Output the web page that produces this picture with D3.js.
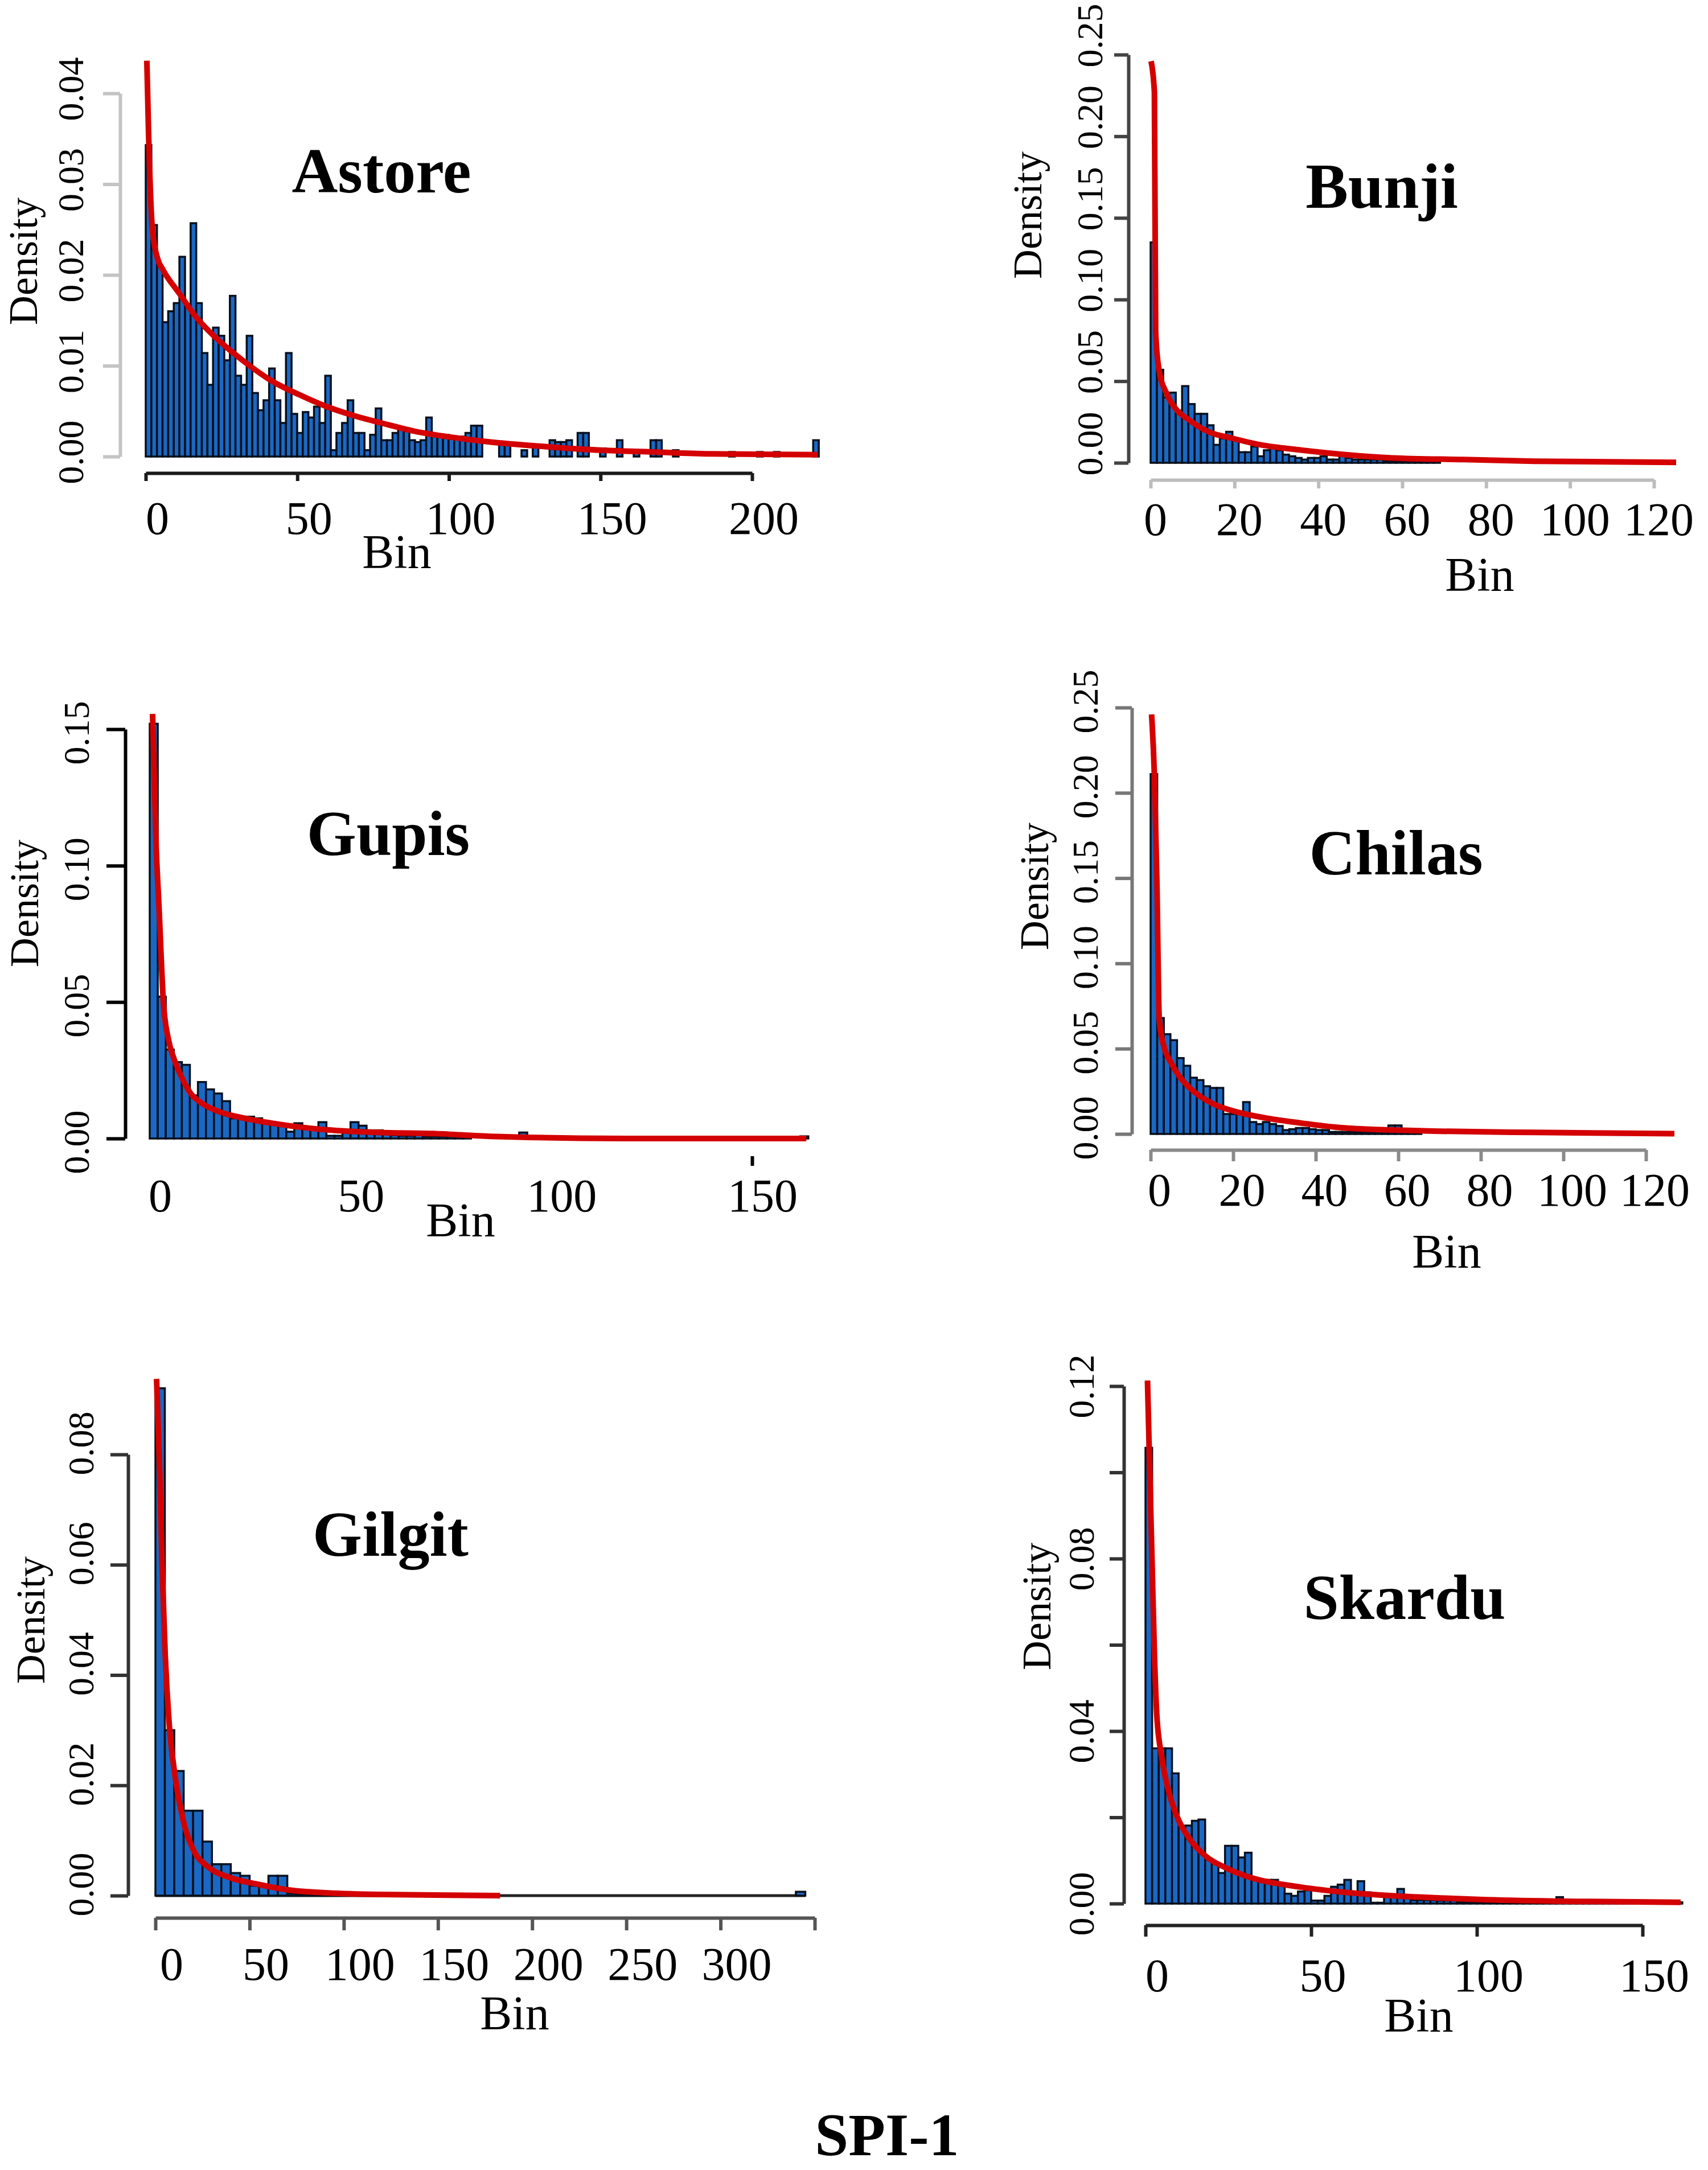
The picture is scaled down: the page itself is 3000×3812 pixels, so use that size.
<!DOCTYPE html>
<html><head><meta charset="utf-8">
<script src="https://cdn.jsdelivr.net/npm/d3@7"></script>
<style>body{margin:0;background:#fff}svg{display:block}</style>
</head><body>
<script>
// ---------------- DATA ----------------
const stations = ["Astore","Bunji","Gupis","Chilas","Gilgit","Skardu"];
const figureTitle = "SPI-1";
const xAxisTitle = "Bin";
const yAxisTitle = "Density";

// histogram bin widths (x units)
const astoreBinWidth = 1.85, bunjiBinWidth = 1.5, gupisBinWidth = 2, chilasBinWidth = 1.6, gilgitBinWidth = 5, skarduBinWidth = 2;

// histogram densities per bin (starting at 0)
const astoreDensity = [
0.0343,0.0255,0.0210,0.0148,0.0160,0.0169,0.0220,0.0167,0.0257,0.0169,
0.0114,0.0079,0.0142,0.0133,0.0106,0.0177,0.0089,0.0079,0.0133,0.0070,
0.0051,0.0062,0.0097,0.0062,0.0037,0.0114,0.0047,0.0026,0.0049,0.0043,
0.0055,0.0037,0.0089,0.0007,0.0026,0.0037,0.0062,0.0026,0.0026,0.0007,
0.0024,0.0053,0.0018,0.0018,0.0026,0.0032,0.0030,0.0018,0.0016,0.0018,
0.0043,0.0024,0.0024,0.0024,0.0022,0.0020,0.0022,0.0026,0.0034,0.0034,
0,0,0,0.0013,0.0013,0,0,0.0007,0,0.0011,
0,0,0.0018,0.0016,0.0016,0.0018,0,0.0026,0.0026,0,
0,0.0009,0,0,0.0018,0,0,0.0005,0,0,
0.0018,0.0018,0,0,0.0007,0,0,0,0,0,
0,0,0,0,0.0005,0,0,0,0,0.0005,
0,0,0.0005,0,0,0,0,0,0,0.0018];
const bunjiDensity = [
0.135,0.057,0.040,0.043,0.032,0.047,0.036,0.030,0.030,0.023,
0.011,0.015,0.019,0.015,0.0065,0.0065,0.010,0.004,0.0077,0.009,
0.0077,0.005,0.004,0.003,0.002,0.003,0.003,0.004,0.002,0.002,
0.0054,0.003,0.002,0.002,0.002,0.002,0.002,0.0012,0.0012,0.0012,
0.0012,0.0012,0.001,0.001,0.001,0.0008];
const gupisDensity = [
0.152,0.052,0.0326,0.028,0.027,0.0158,0.0207,0.018,0.0165,0.0137,
0.0074,0.008,0.008,0.0074,0.006,0.0056,0.0053,0.0025,0.0056,0.004,
0.004,0.006,0.001,0.001,0.0032,0.006,0.0047,0.003,0.003,0.0018,
0.0012,0.001,0.001,0.0012,0.0008,0.0008,0.0008,0.0008,0.0008,0.0008,
0,0,0,0,0,0,0.0022,0,0,0,
0,0,0,0,0,0,0,0,0,0,
0,0,0,0,0,0,0,0,0,0,
0,0,0,0,0,0,0,0,0,0,
0,0.0008];
const chilasDensity = [
0.211,0.068,0.0585,0.055,0.0445,0.040,0.033,0.0316,0.028,0.027,
0.027,0.0117,0.0117,0.0129,0.0187,0.007,0.0058,0.007,0.0058,0.0047,
0.0023,0.0028,0.0035,0.0035,0.0028,0.0023,0.0023,0.0012,0.0012,0.0012,
0.0012,0.0012,0.0012,0.0012,0.0012,0.0012,0.005,0.005,0.001,0.001,
0.001];
const gilgitDensity = [
0.092,0.030,0.0226,0.0154,0.0154,0.0098,0.0057,0.0057,0.0041,0.0036,
0.0018,0.0018,0.0036,0.0036,0.0004,0.0002,0.0002,0.0002,0.0002,0.0002,
0.0002,0.0002,0.0002,0.0002,0,0,0,0,0,0,
0,0,0,0,0,0,0,0,0,0,
0,0,0,0,0,0,0,0,0,0,
0,0,0,0,0,0,0,0,0,0,
0,0,0,0,0,0,0,0,0.0007];
const skarduDensity = [
0.1057,0.036,0.036,0.036,0.0302,0.0176,0.0181,0.0192,0.0195,0.0102,
0.0092,0.0071,0.0134,0.0134,0.0107,0.0118,0.0055,0.0055,0.0055,0.0055,
0.0044,0.0023,0.0018,0.0028,0.0031,0.0007,0.0007,0.0018,0.0039,0.0044,
0.0055,0.0026,0.0052,0.0026,0.0002,0.0002,0.0016,0.0018,0.0034,0.0018,
0.0008,0.0008,0.0008,0.0008,0.0007,0.0007,0.0007,0.0003,0.0003,0.0003,
0.0003,0.0003,0.0003,0.0003,0.0003,0.0003,0.0003,0.0003,0.0003,0.0003,
0.0003,0.0003,0.0015,0.0003,0.0003,0.0003,0.0003,0.0003,0.0003,0.0003,
0.0003,0.0003,0.0003,0.0003,0.0003,0.0003,0.0003,0.0003,0.0003,0.0003,
0.0003];

// fitted density curves
const astoreCurveX = [0.36,0.9,2.2,4.0,5.8,11.2,16.5,23.7,32.7,41.7,50.7,59.7,68.7,77.7,88.5,99.3,113.7,131.7,149.7,167.6,185.6,221.6];
const astoreCurveY = [0.0436,0.036,0.025,0.0217,0.0205,0.0179,0.0154,0.0129,0.0104,0.0083,0.0068,0.0055,0.0045,0.0037,0.0028,0.0022,0.0016,0.0011,0.0007,0.0005,0.0003,0.0002];
const bunjiCurveX = [0.1,0.9,1.2,2.0,3.7,6.0,9.3,13.8,19.5,26.2,35.2,46.5,57.7,74.6,91.5,125.3];
const bunjiCurveY = [0.246,0.227,0.080,0.057,0.043,0.033,0.026,0.019,0.015,0.011,0.008,0.005,0.003,0.002,0.001,0.0003];
const gupisCurveX = [0.7,1.6,2.3,3.4,4.7,6.1,8.1,10.2,12.9,17.0,23.7,30.5,37.3,44.1,57.7,71.2,84.8,118.7,163.5];
const gupisCurveY = [0.1556,0.107,0.085,0.050,0.036,0.029,0.022,0.0165,0.013,0.010,0.0074,0.0056,0.0042,0.0032,0.0022,0.0018,0.0008,0.0,0.0];
const chilasCurveX = [0.23,0.9,1.5,2.1,3.2,4.9,7.2,10.6,15.2,20.9,27.8,35.8,47.2,58.6,70.1,92.9,126.9];
const chilasCurveY = [0.246,0.211,0.150,0.067,0.0515,0.042,0.033,0.0246,0.0176,0.0129,0.0094,0.0066,0.0035,0.0023,0.0016,0.0009,0.0002];
const gilgitCurveX = [0.6,2.3,3.5,5.2,7.3,10.2,14.5,20.3,27.6,39.2,53.8,71.2,91.6,120.6,183];
const gilgitCurveY = [0.0937,0.0765,0.060,0.0436,0.0312,0.0222,0.014,0.0082,0.0053,0.0033,0.0021,0.001,0.0005,0.0002,0];
const skarduCurveX = [0.6,1.3,2.0,2.7,3.4,4.8,7.0,9.8,13.4,17.7,24.8,31.9,46.2,60.4,74.6,88.9,103.1,131.6,161.5];
const skarduCurveY = [0.1213,0.0997,0.0786,0.0576,0.0439,0.0344,0.026,0.0197,0.0149,0.0113,0.0081,0.006,0.0039,0.0026,0.0018,0.0013,0.0009,0.0005,0.0003];

// tick values / labels
const astoreXTicks = [0,50,100,150,200], astoreYTicks = [0,0.01,0.02,0.03,0.04];
const bunjiXTicks = [0,20,40,60,80,100,120], bunjiYTicks = [0,0.05,0.10,0.15,0.20,0.25];
const gupisXTicks = [0,50,100,150], gupisYTicks = [0,0.05,0.10,0.15];
const chilasXTicks = [0,20,40,60,80,100,120], chilasYTicks = [0,0.05,0.10,0.15,0.20,0.25];
const gilgitXTicks = [0,50,100,150,200,250,300,350], gilgitXLabels = [0,50,100,150,200,250,300], gilgitYTicks = [0,0.02,0.04,0.06,0.08];
const skarduXTicks = [0,50,100,150], skarduYTicks = [0,0.02,0.04,0.06,0.08,0.10,0.12], skarduYLabels = [0,0.04,0.08,0.12];

// ---------------- LAYOUT / STYLE ----------------
const W = 3000, H = 3812;
const SERIF = "'Liberation Serif','Times New Roman','DejaVu Serif',serif";
const panels = [
 {name:stations[0], bw:astoreBinWidth, dens:astoreDensity, cx:astoreCurveX, cy:astoreCurveY,
  xTicks:astoreXTicks, xLabels:astoreXTicks, yTicks:astoreYTicks, yLabels:astoreYTicks,
  yAxisX:211, yTop:164, yBot:802, xLeft:256, xRight:1321, xAxisY:831, xLabelBase:938, xLabelDx:20,
  yLabelX:124, yLabelShift:8, densX:40, densY:459, titleX:670, titleY:338, binX:697, binY:998,
  yTickLen:30, xTickLen:14, yColor:"#c4c4c4", xColor:"#1a1a1a", showXLine:true},
 {name:stations[1], bw:bunjiBinWidth, dens:bunjiDensity, cx:bunjiCurveX, cy:bunjiCurveY,
  xTicks:bunjiXTicks, xLabels:bunjiXTicks, yTicks:bunjiYTicks, yLabels:bunjiYTicks,
  yAxisX:1982, yTop:96, yBot:813, xLeft:2021, xRight:2905, xAxisY:843, xLabelBase:940, xLabelDx:8,
  yLabelX:1914, yLabelShift:34, densX:1804, densY:378, titleX:2427, titleY:365, binX:2599, binY:1038,
  yTickLen:25, xTickLen:15, yColor:"#444", xColor:"#bdbdbd", showXLine:true},
 {name:stations[2], bw:gupisBinWidth, dens:gupisDensity, cx:gupisCurveX, cy:gupisCurveY,
  xTicks:gupisXTicks, xLabels:gupisXTicks, yTicks:gupisYTicks, yLabels:gupisYTicks,
  yAxisX:220, yTop:1281, yBot:2000, xLeft:263, xRight:1321, xAxisY:2031, xLabelBase:2128, xLabelDx:18,
  yLabelX:134, yLabelShift:-6, densX:42, densY:1587, titleX:682, titleY:1502, binX:809, binY:2172,
  yTickLen:33, xTickLen:17, yColor:"#000", xColor:"#000", showXLine:false, visibleXTicks:[150]},
 {name:stations[3], bw:chilasBinWidth, dens:chilasDensity, cx:chilasCurveX, cy:chilasCurveY,
  xTicks:chilasXTicks, xLabels:chilasXTicks, yTicks:chilasYTicks, yLabels:chilasYTicks,
  yAxisX:1988, yTop:1243, yBot:1992, xLeft:2021, xRight:2891, xAxisY:2020, xLabelBase:2118, xLabelDx:15,
  yLabelX:1906, yLabelShift:11, densX:1816, densY:1557, titleX:2452, titleY:1536, binX:2541, binY:2227,
  yTickLen:29, xTickLen:20, yColor:"#777", xColor:"#8a8a8a", showXLine:true},
 {name:stations[4], bw:gilgitBinWidth, dens:gilgitDensity, cx:gilgitCurveX, cy:gilgitCurveY,
  xTicks:gilgitXTicks, xLabels:gilgitXLabels, yTicks:gilgitYTicks, yLabels:gilgitYTicks,
  yAxisX:225, yTop:2555, yBot:3330, xLeft:273, xRight:1431, xAxisY:3369, xLabelBase:3478, xLabelDx:28,
  yLabelX:142, yLabelShift:20, densX:53, densY:2846, titleX:686, titleY:2733, binX:904, binY:3565,
  yTickLen:31, xTickLen:22, yColor:"#333", xColor:"#555", showXLine:true, baseline:true},
 {name:stations[5], bw:skarduBinWidth, dens:skarduDensity, cx:skarduCurveX, cy:skarduCurveY,
  xTicks:skarduXTicks, xLabels:skarduXTicks, yTicks:skarduYTicks, yLabels:skarduYLabels,
  yAxisX:1974, yTop:2435, yBot:3344, xLeft:2012, xRight:2885, xAxisY:3382, xLabelBase:3498, xLabelDx:20,
  yLabelX:1899, yLabelShift:0, densX:1820, densY:2822, titleX:2467, titleY:2844, binX:2492, binY:3569,
  yTickLen:25, xTickLen:20, yColor:"#333", xColor:"#222", showXLine:true}
];

const svg = d3.select("body").append("svg").attr("width",W).attr("height",H).attr("viewBox",`0 0 ${W} ${H}`);
svg.append("rect").attr("width",W).attr("height",H).attr("fill","#fff");
const fmt2 = d3.format(".2f");

panels.forEach(p=>{
  const g = svg.append("g").attr("class","panel");
  const x = d3.scaleLinear().domain([p.xTicks[0], p.xTicks[p.xTicks.length-1]]).range([p.xLeft,p.xRight]);
  const y = d3.scaleLinear().domain([p.yTicks[0], p.yTicks[p.yTicks.length-1]]).range([p.yBot,p.yTop]);

  const bins = p.dens.map((d,i)=>({x0:i*p.bw, x1:(i+1)*p.bw, d}));
  if(p.baseline){
    g.append("line").attr("x1",x(0)).attr("x2",x(bins[bins.length-1].x1))
      .attr("y1",y(0)).attr("y2",y(0)).attr("stroke","#222").attr("stroke-width",5);
  }
  g.append("g").selectAll("rect").data(bins.filter(b=>b.d>0)).join("rect")
    .attr("x",b=>x(b.x0)).attr("width",b=>x(b.x1)-x(b.x0))
    .attr("y",b=>y(b.d)).attr("height",b=>Math.max(1.5,y(0)-y(b.d)))
    .attr("fill","#1a68c4").attr("stroke","#07101c").attr("stroke-width",3.5);

  const pts = p.cx.map((v,i)=>[v,p.cy[i]]);
  g.append("path").datum(pts)
    .attr("d",d3.line().x(d=>x(d[0])).y(d=>y(d[1])).curve(d3.curveMonotoneX))
    .attr("fill","none").attr("stroke","#d40000").attr("stroke-width",10).attr("stroke-linejoin","round");

  // y axis
  const ya = d3.axisLeft(y).tickValues(p.yTicks).tickSize(p.yTickLen).tickSizeOuter(0)
    .tickFormat(d=>p.yLabels.includes(d)?fmt2(d):"");
  const yg = g.append("g").attr("transform",`translate(${p.yAxisX},0)`).call(ya)
    .attr("font-size",64).attr("font-family",SERIF);
  yg.select(".domain").attr("stroke",p.yColor).attr("stroke-width",6);
  yg.selectAll(".tick line").attr("stroke",p.yColor).attr("stroke-width",6);
  yg.selectAll(".tick text").attr("transform","rotate(-90)")
    .attr("x",p.yLabelShift).attr("y",-(p.yAxisX-p.yLabelX)).attr("dy","0.35em")
    .attr("text-anchor","middle").attr("fill","#000");

  // x axis
  const xa = d3.axisBottom(x).tickValues(p.xTicks).tickSize(p.xTickLen).tickSizeOuter(0)
    .tickFormat(d=>p.xLabels.includes(d)?String(d):"");
  const xg = g.append("g").attr("transform",`translate(0,${p.xAxisY})`).call(xa)
    .attr("font-size",82).attr("font-family",SERIF);
  xg.select(".domain").attr("stroke",p.showXLine?p.xColor:"none").attr("stroke-width",6);
  xg.selectAll(".tick line").attr("stroke-width",6)
    .attr("stroke",d=>(p.visibleXTicks && !p.visibleXTicks.includes(d))?"none":p.xColor);
  xg.selectAll(".tick text").attr("y",p.xLabelBase-p.xAxisY).attr("dy",0).attr("dx",p.xLabelDx).attr("fill","#000");

  // labels
  g.append("text").attr("transform",`translate(${p.densX},${p.densY}) rotate(-90)`)
    .attr("text-anchor","middle").attr("dy","0.35em").attr("font-family",SERIF).attr("font-size",72)
    .text(yAxisTitle);
  g.append("text").attr("x",p.binX).attr("y",p.binY).attr("text-anchor","middle")
    .attr("font-family",SERIF).attr("font-size",84).text(xAxisTitle);
  g.append("text").attr("x",p.titleX).attr("y",p.titleY).attr("text-anchor","middle")
    .attr("font-family",SERIF).attr("font-weight","bold").attr("font-size",112).text(p.name);
});

svg.append("text").attr("x",1558).attr("y",3786).attr("text-anchor","middle")
  .attr("font-family",SERIF).attr("font-weight","bold").attr("font-size",106).text(figureTitle);
</script>
</body></html>
